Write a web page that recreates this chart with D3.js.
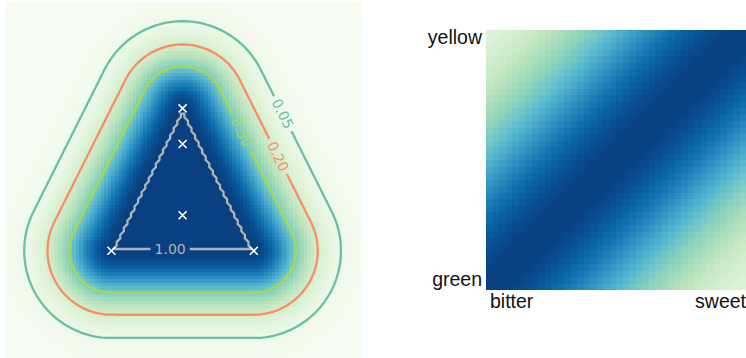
<!DOCTYPE html>
<html>
<head>
<meta charset="utf-8">
<script src="https://cdn.jsdelivr.net/npm/d3@7"></script>
<style>
  body { margin: 0; background: #fff; }
  svg { display: block; }
</style>
</head>
<body>
<div id="chart"></div>
<script>
// ---------- data ----------
// left: fuzzy concept with a triangular core
const coreCorners = [[0, 0], [1, 0], [0.5, 1]];
const examplePoints = [[0, 0], [1, 0], [0.5, 1], [0.5, 0.75], [0.5, 0.25]];
const levels = [0.05, 0.20, 0.50, 1.00];
const levelLabels = ["0.05", "0.20", "0.50", "1.00"];
const sigma = 0.25;              // width of the membership fall-off
const spaceDomain = [-0.75, 1.75];
const gridN = 100;

// right: correlation between taste and colour
const tasteLabels = ["bitter", "sweet"];
const colourLabels = ["green", "yellow"];
const corrN = 40;
const corrSigma = 0.5;

// ---------- layout / style ----------
const W = 746, H = 358;
const left = {x0: 4.6, y0: 1.6, size: 356};
const right = {x0: 486, y0: 30, size: 260};
const levelColors = ["#66c2a5", "#fc8d62", "#a6d854", "#b3b3b3"];
// where the inline labels sit: [edge index, fraction along edge]
const labelSpots = [[1, 0.70], [1, 0.45], [1, 0.70], [0, 0.405]];

const color = d3.scaleSequential(d3.interpolateGnBu).domain([0, 1]);

const svg = d3.select('#chart').append('svg')
  .attr('width', W)
  .attr('height', H);

// ---------- left panel ----------
function distToCore(x, y) {
  if (d3.polygonContains(coreCorners, [x, y])) return 0;
  let best = Infinity;
  for (let k = 0; k < coreCorners.length; k++) {
    const a = coreCorners[k], b = coreCorners[(k + 1) % coreCorners.length];
    const dx = b[0] - a[0], dy = b[1] - a[1];
    let t = ((x - a[0]) * dx + (y - a[1]) * dy) / (dx * dx + dy * dy);
    t = Math.max(0, Math.min(1, t));
    const ex = x - (a[0] + t * dx), ey = y - (a[1] + t * dy);
    best = Math.min(best, Math.sqrt(ex * ex + ey * ey));
  }
  return best;
}
const membership = (x, y) => {
  const d = distToCore(x, y);
  return Math.exp(-d * d / (2 * sigma * sigma));
};

const step = (spaceDomain[1] - spaceDomain[0]) / gridN;
// row 0 = top of the picture
const values = [];
for (let j = 0; j < gridN; j++) {
  const y = spaceDomain[1] - (j + 0.5) * step;
  for (let i = 0; i < gridN; i++) {
    const x = spaceDomain[0] + (i + 0.5) * step;
    values.push(membership(x, y));
  }
}

const xs = d3.scaleLinear().domain(spaceDomain).range([left.x0, left.x0 + left.size]);
const ys = d3.scaleLinear().domain(spaceDomain).range([left.y0 + left.size, left.y0]);
const colBand = d3.scaleBand().domain(d3.range(gridN)).range([left.x0, left.x0 + left.size]);
const rowBand = d3.scaleBand().domain(d3.range(gridN)).range([left.y0, left.y0 + left.size]);

svg.append('g')
  .attr('shape-rendering', 'crispEdges')
  .selectAll('rect')
  .data(values)
  .enter().append('rect')
    .attr('x', (d, k) => colBand(k % gridN))
    .attr('y', (d, k) => rowBand(Math.floor(k / gridN)))
    .attr('width', colBand.bandwidth() + 0.3)
    .attr('height', rowBand.bandwidth() + 0.3)
    .attr('fill', d => color(d));

// contours
const contours = d3.contours().size([gridN, gridN]).thresholds(levels)(values);
const proj = d3.geoIdentity().scale(left.size / gridN).translate([left.x0, left.y0]);
const path = d3.geoPath(proj);

const contourG = svg.append('g');

// label positions: point on edge pushed out to the level's distance, snapped to the drawn line
const labels = levels.map((lv, k) => {
  const [e, f] = labelSpots[k];
  const a = coreCorners[e], b = coreCorners[(e + 1) % coreCorners.length];
  const ax = xs(a[0]), ay = ys(a[1]), bx = xs(b[0]), by = ys(b[1]);
  const len = Math.hypot(bx - ax, by - ay);
  const ux = (bx - ax) / len, uy = (by - ay) / len;
  const r = sigma * Math.sqrt(2 * Math.log(1 / lv)) * (xs(1) - xs(0));
  // outward normal on screen
  const nx = -uy, ny = ux;
  const px = ax + f * (bx - ax) + r * nx, py = ay + f * (by - ay) + r * ny;
  let best = Infinity, sx = px, sy = py;
  contours[k].coordinates.forEach(poly => poly.forEach(ring => ring.forEach(c => {
    const q = proj(c);
    const dd = (q[0] - px) ** 2 + (q[1] - py) ** 2;
    if (dd < best) { best = dd; sx = q[0]; sy = q[1]; }
  })));
  let ang = Math.atan2(uy, ux) * 180 / Math.PI;
  if (ang > 90) ang -= 180;
  if (ang < -90) ang += 180;
  return {x: sx, y: sy, angle: ang, text: levelLabels[k], color: levelColors[k]};
});

const labelG = svg.append('g')
  .style('font-family', '"DejaVu Sans", sans-serif')
  .style('font-size', '14px');
const labelTexts = labelG.selectAll('text')
  .data(labels)
  .enter().append('text')
    .attr('transform', d => 'translate(' + d.x + ',' + d.y + ')rotate(' + d.angle + ')')
    .attr('text-anchor', 'middle')
    .attr('dominant-baseline', 'central')
    .attr('fill', d => d.color)
    .text(d => d.text);

// mask to break the lines under the labels
const mask = svg.append('defs').append('mask').attr('id', 'gaps')
  .attr('maskUnits', 'userSpaceOnUse')
  .attr('x', 0).attr('y', 0).attr('width', W).attr('height', H);
mask.append('rect').attr('width', W).attr('height', H).attr('fill', '#fff');
labelTexts.each(function(d) {
  const w = this.getComputedTextLength() + 8;
  mask.append('rect')
    .attr('x', -w / 2).attr('y', -6)
    .attr('width', w).attr('height', 12)
    .attr('fill', '#000')
    .attr('transform', 'translate(' + d.x + ',' + d.y + ')rotate(' + d.angle + ')');
});

contourG
  .attr('mask', 'url(#gaps)')
  .selectAll('path')
  .data(contours)
  .enter().append('path')
    .attr('d', path)
    .attr('fill', 'none')
    .attr('stroke', (d, k) => levelColors[k])
    .attr('stroke-width', 2.3)
    .attr('stroke-linejoin', 'round');

// example points
svg.append('g')
  .selectAll('path')
  .data(examplePoints)
  .enter().append('path')
    .attr('transform', d => 'translate(' + xs(d[0]) + ',' + ys(d[1]) + ')')
    .attr('d', 'M-4,-4L4,4M-4,4L4,-4')
    .attr('stroke', '#fff')
    .attr('stroke-width', 1.6)
    .attr('fill', 'none');

// ---------- right panel ----------
const cells = [];
for (let r = 0; r < corrN; r++) {        // r = 0 -> green (bottom)
  for (let c = 0; c < corrN; c++) {      // c = 0 -> bitter (left)
    const u = c / (corrN - 1) - r / (corrN - 1);
    cells.push({c: c, r: r, v: Math.exp(-u * u / (2 * corrSigma * corrSigma))});
  }
}
const xr = d3.scaleBand().domain(d3.range(corrN)).range([right.x0, right.x0 + right.size]);
const yr = d3.scaleBand().domain(d3.range(corrN)).range([right.y0 + right.size, right.y0]);

svg.append('g')
  .attr('shape-rendering', 'crispEdges')
  .selectAll('rect')
  .data(cells)
  .enter().append('rect')
    .attr('x', d => xr(d.c))
    .attr('y', d => yr(d.r))
    .attr('width', xr.bandwidth() + 0.3)
    .attr('height', yr.bandwidth() + 0.3)
    .attr('fill', d => color(d.v));

const tickG = svg.append('g')
  .style('font-family', '"Liberation Sans", Arial, sans-serif')
  .style('font-size', '19.5px')
  .attr('fill', '#111');

tickG.selectAll('.ylab')
  .data(colourLabels)
  .enter().append('text')
    .attr('class', 'ylab')
    .attr('text-anchor', 'end')
    .attr('x', right.x0 - 4)
    .attr('y', (d, i) => i === 0 ? yr(0) + yr.bandwidth() - 4 : yr(corrN - 1) + 14.3)
    .text(d => d);

tickG.selectAll('.xlab')
  .data(tasteLabels)
  .enter().append('text')
    .attr('class', 'xlab')
    .attr('text-anchor', (d, i) => i === 0 ? 'start' : 'end')
    .attr('x', (d, i) => i === 0 ? xr(0) + 4 : xr(corrN - 1) + xr.bandwidth())
    .attr('y', right.y0 + right.size + 18.3)
    .text(d => d);
</script>
</body>
</html>
